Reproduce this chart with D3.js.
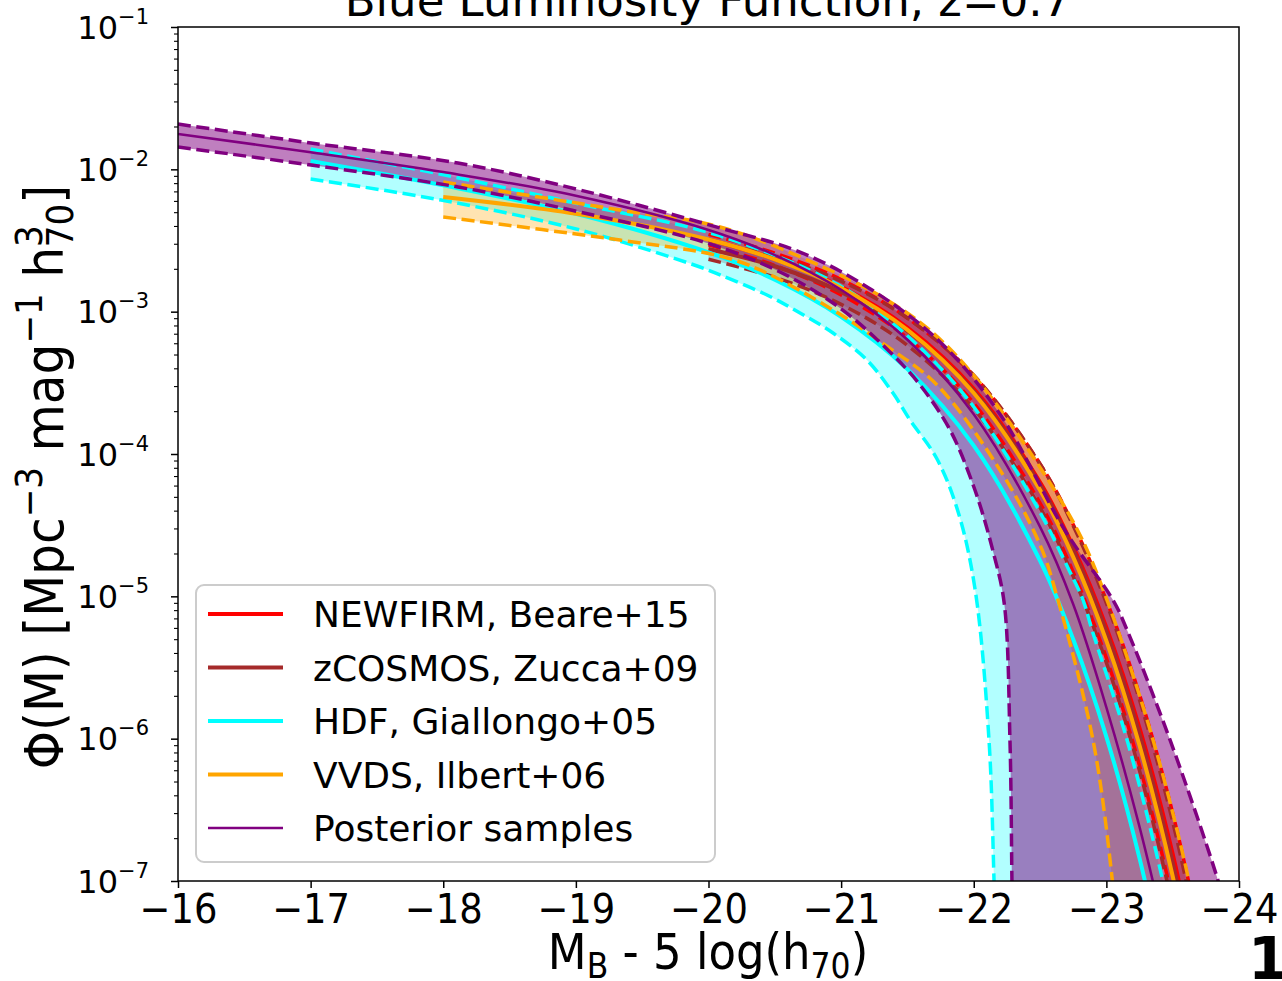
<!DOCTYPE html>
<html><head><meta charset="utf-8">
<script src="https://cdn.jsdelivr.net/npm/d3@7"></script>
<style>body{margin:0;background:#fff}svg{display:block}</style>
</head><body><svg id="c" width="1282" height="981"></svg>
<script>
// ---------------- data (M_B - 5log h70, log10 Phi) ----------------
const xTicks = [-16,-17,-18,-19,-20,-21,-22,-23,-24];
const yTicksExp = [-1,-2,-3,-4,-5,-6,-7];

// NEWFIRM, Beare+15 (red)
const redM      = [-20,-20.5,-21,-21.5,-22,-22.5,-22.75,-23,-23.25,-23.5,-23.75];
const redC      = [-2.4926,-2.6305,-2.8257,-3.1118,-3.5414,-4.1994,-4.6529,-5.2183,-5.9254,-6.8105,-7.919];
const redLo     = [-2.5306,-2.6755,-2.8818,-3.1852,-3.643,-4.3449,-4.8296,-5.4342,-6.1902,-7.1372,-8.3];
const redHi     = [-2.4566,-2.5884,-2.7739,-3.0444,-3.4496,-4.0692,-4.4956,-5.0273,-5.6913,-6.5222,-7.5636];
// zCOSMOS, Zucca+09 (brown)
const brownM    = [-20,-20.5,-21,-21.5,-22,-22.5,-22.75,-23,-23.25,-23.5,-23.75];
const brownC    = [-2.56,-2.681,-2.861,-3.135,-3.558,-4.216,-4.674,-5.247,-5.967,-6.870,-8.003];
const brownLo   = [-2.6321,-2.759,-2.9485,-3.2368,-3.6824,-4.3764,-4.86,-5.4654,-6.2254,-7.1794,-8.35];
const brownHi   = [-2.4982,-2.6139,-2.7855,-3.046,-3.4469,-4.0706,-4.5041,-5.0474,-5.7286,-6.5839,-7.6576];
// HDF, Giallongo+05 (cyan)
const cyanM     = [-17,-18,-19,-20,-20.5,-21,-21.5,-22,-22.5,-22.75,-23,-23.25,-23.5];
const cyanC     = [-1.9415,-2.1125,-2.312,-2.5835,-2.7756,-3.0356,-3.4034,-3.9415,-4.750,-5.302,-5.987,-6.840,-7.903];
const cyanLoM   = [-17.0,-17.983,-19.031,-19.936,-20.087,-20.441,-20.690,-20.939,-21.195,-21.391,-21.519,-21.720,-21.880,-22.010,-22.115,-22.153,-22.168];
const cyanLo    = [-2.068,-2.2155,-2.426,-2.686,-2.742,-2.883,-3.009,-3.150,-3.340,-3.572,-3.761,-4.030,-4.400,-4.950,-6.009,-7.0,-7.485];
const cyanHiM   = [-17.0,-17.975,-19.031,-20.087,-20.969,-21.467,-21.972,-22.469,-22.718,-22.824,-22.892,-23.156,-23.419,-23.517];
const cyanHi    = [-1.857,-2.033,-2.244,-2.468,-2.806,-3.143,-3.635,-4.358,-4.815,-5.026,-5.237,-6.009,-6.972,-7.415];
// VVDS, Ilbert+06 (orange)
const orangeM   = [-18,-19,-20,-20.5,-21,-21.5,-22,-22.5,-22.75,-23,-23.25,-23.5,-23.75];
const orangeC   = [-2.1945,-2.3123,-2.4933,-2.6334,-2.8331,-3.1276,-3.5718,-4.2538,-4.7245,-5.3124,-6.0476,-6.967,-8.124];
const orangeLoM = [-18.0,-19.333,-20.087,-20.388,-20.939,-21.331,-21.723,-22.198,-22.500,-22.635,-22.899,-23.042,-23.088];
const orangeLo  = [-2.335,-2.497,-2.609,-2.707,-2.988,-3.234,-3.515,-4.113,-4.639,-5.026,-6.009,-6.972,-7.485];
const orangeHiM = [-18.0,-19.333,-20.087,-20.863,-21.346,-21.693,-22.047,-22.537,-22.801,-23.005,-23.352,-23.616,-23.706];
const orangeHi  = [-2.089,-2.286,-2.405,-2.686,-2.918,-3.150,-3.501,-4.148,-4.569,-5.026,-6.009,-6.972,-7.415];
// Posterior samples (purple)
const purpleM   = [-16,-17,-18,-19,-20,-20.5,-21,-21.5,-22,-22.5,-22.75,-23,-23.25,-23.5];
const purpleC   = [-1.752,-1.880,-2.019,-2.186,-2.426,-2.602,-2.846,-3.197,-3.720,-4.512,-5.056,-5.78,-6.62,-7.6];
const purpleLoM = [-16,-17.003,-18.111,-19.031,-19.989,-20.539,-20.991,-21.368,-21.595,-21.821,-22.009,-22.150,-22.230,-22.273,-22.288,-22.296];
const purpleLo  = [-1.843,-1.970,-2.124,-2.300,-2.518,-2.721,-2.974,-3.283,-3.515,-3.831,-4.253,-4.700,-5.050,-6.009,-7.0,-7.485];
const purpleHiM = [-16,-17.003,-18.111,-19.031,-20.087,-20.690,-21.233,-21.746,-22.197,-22.695,-23.050,-23.156,-23.480,-23.834,-23.947];
const purpleHi  = [-1.682,-1.815,-1.956,-2.145,-2.412,-2.581,-2.848,-3.213,-3.719,-4.548,-5.026,-5.237,-6.009,-6.972,-7.344];

const legendLabels = ["NEWFIRM, Beare+15","zCOSMOS, Zucca+09","HDF, Giallongo+05","VVDS, Ilbert+06","Posterior samples"];
const colors = {red:"#ff0000", brown:"#a52a2a", cyan:"#00ffff", orange:"#ffa500", purple:"#800080"};

// ---------------- drawing ----------------
const P = {l:178, r:1239, t:27, b:881};
const x = d3.scaleLinear().domain([-16,-24]).range([P.l,P.r]);
const y = d3.scaleLog().domain([1e-7,1e-1]).range([P.b,P.t]);
const svg = d3.select("#c");
const FONT = "'DejaVu Sans', sans-serif";
const CFONT = "'DejaVu Sans Condensed','DejaVu Sans', sans-serif";

svg.append("defs").append("clipPath").attr("id","clip")
  .append("rect").attr("x",P.l).attr("y",P.t).attr("width",P.r-P.l).attr("height",P.b-P.t);
const g = svg.append("g").attr("clip-path","url(#clip)");

const pts = (M,L) => M.map((m,i)=>[x(m), y(Math.pow(10,L[i]))]);
const line = d3.line().curve(d3.curveCatmullRom.alpha(0.5));

function band(Mh,Lh,Ml,Ll,color,alpha){
  const a = line(pts(Mh,Lh));
  const b = line(pts(Ml,Ll).reverse());
  g.append("path").attr("d", a + "L" + b.slice(1) + "Z")
    .attr("fill", color).attr("fill-opacity", alpha).attr("stroke","none");
}
function curve(M,L,color,w,dashed){
  g.append("path").attr("d", line(pts(M,L))).attr("fill","none")
    .attr("stroke",color).attr("stroke-width",w)
    .attr("stroke-dasharray", dashed ? "13,5.6" : null);
}

// fills
band(redM,redHi,redM,redLo,colors.red,0.3);
band(brownM,brownHi,brownM,brownLo,colors.brown,0.3);
band(cyanHiM,cyanHi,cyanLoM,cyanLo,colors.cyan,0.3);
band(orangeHiM,orangeHi,orangeLoM,orangeLo,colors.orange,0.3);
band(purpleHiM,purpleHi,purpleLoM,purpleLo,colors.purple,0.5);
// lines
curve(redM,redLo,colors.red,3.5,true); curve(redM,redHi,colors.red,3.5,true); curve(redM,redC,colors.red,4,false);
curve(brownM,brownLo,colors.brown,3.5,true); curve(brownM,brownHi,colors.brown,3.5,true); curve(brownM,brownC,colors.brown,4,false);
curve(cyanLoM,cyanLo,colors.cyan,3.5,true); curve(cyanHiM,cyanHi,colors.cyan,3.5,true); curve(cyanM,cyanC,colors.cyan,4,false);
curve(orangeLoM,orangeLo,colors.orange,3.5,true); curve(orangeHiM,orangeHi,colors.orange,3.5,true); curve(orangeM,orangeC,colors.orange,4,false);
curve(purpleLoM,purpleLo,colors.purple,3.5,true); curve(purpleHiM,purpleHi,colors.purple,3.5,true); curve(purpleM,purpleC,colors.purple,2.5,false);

// axes
const xAxis = svg.append("g").attr("transform",`translate(0,${P.b})`)
  .call(d3.axisBottom(x).tickValues(xTicks).tickSize(7).tickPadding(6)
        .tickFormat(d => "\u2212" + Math.abs(d)));
xAxis.select(".domain").remove();
xAxis.selectAll("line").attr("stroke","#000").attr("stroke-width",1.5);
xAxis.selectAll("text").attr("font-family",CFONT).attr("font-size",41).attr("fill","#000")
  .attr("dy",null).attr("y",42);

const majors = yTicksExp.map(e => Math.pow(10,e));
const minors = [];
for (let e=-7; e<-1; e++) for (let k=2;k<=9;k++) minors.push(k*Math.pow(10,e));
const yMin = svg.append("g").attr("transform",`translate(${P.l},0)`)
  .call(d3.axisLeft(y).tickValues(minors).tickSize(4).tickFormat(""));
yMin.select(".domain").remove();
yMin.selectAll("line").attr("stroke","#000").attr("stroke-width",1.1);
const yMaj = svg.append("g").attr("transform",`translate(${P.l},0)`)
  .call(d3.axisLeft(y).tickValues(majors).tickSize(7).tickFormat(""));
yMaj.select(".domain").remove();
yMaj.selectAll("line").attr("stroke","#000").attr("stroke-width",1.5);
yMaj.selectAll(".tick").each(function(d){
  const t = d3.select(this).append("text").attr("x",-29).attr("y",11)
    .attr("text-anchor","end").attr("font-family",FONT).attr("fill","#000");
  t.append("tspan").attr("font-size",32).text("10");
  t.append("tspan").attr("font-size",21).attr("dy",-15).text("\u2212" + Math.abs(Math.round(Math.log10(d))));
});

// frame
svg.append("rect").attr("x",P.l).attr("y",P.t).attr("width",P.r-P.l).attr("height",P.b-P.t)
  .attr("fill","none").attr("stroke","#000").attr("stroke-width",1.5);

// title
svg.append("text").attr("x",708).attr("y",16).attr("text-anchor","middle")
  .attr("font-family",FONT).attr("font-size",45).attr("fill","#000")
  .text("Blue Luminosity Function, z=0.7");

// x label
const xl = svg.append("text").attr("x",708).attr("y",969).attr("text-anchor","middle")
  .attr("font-family",CFONT).attr("font-size",50).attr("fill","#000");
xl.append("tspan").text("M");
xl.append("tspan").attr("font-size",35).attr("dy",9).text("B");
xl.append("tspan").attr("dy",-9).text(" - 5 log(h");
xl.append("tspan").attr("font-size",35).attr("dy",9).text("70");
xl.append("tspan").attr("dy",-9).text(")");

// y label
const yl = svg.append("text").attr("transform","translate(63,477) rotate(-90)")
  .attr("text-anchor","middle").attr("font-family",CFONT).attr("font-size",54).attr("fill","#000");
yl.append("tspan").text("\u03A6(M) [Mpc");
yl.append("tspan").attr("font-size",38).attr("dy",-21).text("\u22123");
yl.append("tspan").attr("dy",21).text(" mag");
yl.append("tspan").attr("font-size",38).attr("dy",-21).text("\u22121");
yl.append("tspan").attr("dy",21).text(" h");
yl.append("tspan").attr("font-size",38).attr("dy",-21).text("3");
yl.append("tspan").attr("font-size",38).attr("dx",-22).attr("dy",31).text("70");
yl.append("tspan").attr("dy",-10).text("]");

// legend
const L0 = {x:196,y:585,w:519,h:277};
svg.append("rect").attr("x",L0.x).attr("y",L0.y).attr("width",L0.w).attr("height",L0.h)
  .attr("rx",8).attr("fill","#fff").attr("fill-opacity",0.8).attr("stroke","#cccccc").attr("stroke-width",2);
const legColors = [colors.red,colors.brown,colors.cyan,colors.orange,colors.purple];
legendLabels.forEach((lab,i)=>{
  const yy = 614 + i*53.5;
  svg.append("line").attr("x1",208).attr("x2",283).attr("y1",yy).attr("y2",yy)
    .attr("stroke",legColors[i]).attr("stroke-width", i===4 ? 2.5 : 4);
  svg.append("text").attr("x",313).attr("y",yy+13).attr("font-family",FONT).attr("font-size",36)
    .attr("fill","#000").text(lab);
});

// panel number
svg.append("text").attr("x",1248).attr("y",979).attr("font-family",FONT).attr("font-weight","bold")
  .attr("font-size",58).attr("fill","#000").text("1");
</script></body></html>
